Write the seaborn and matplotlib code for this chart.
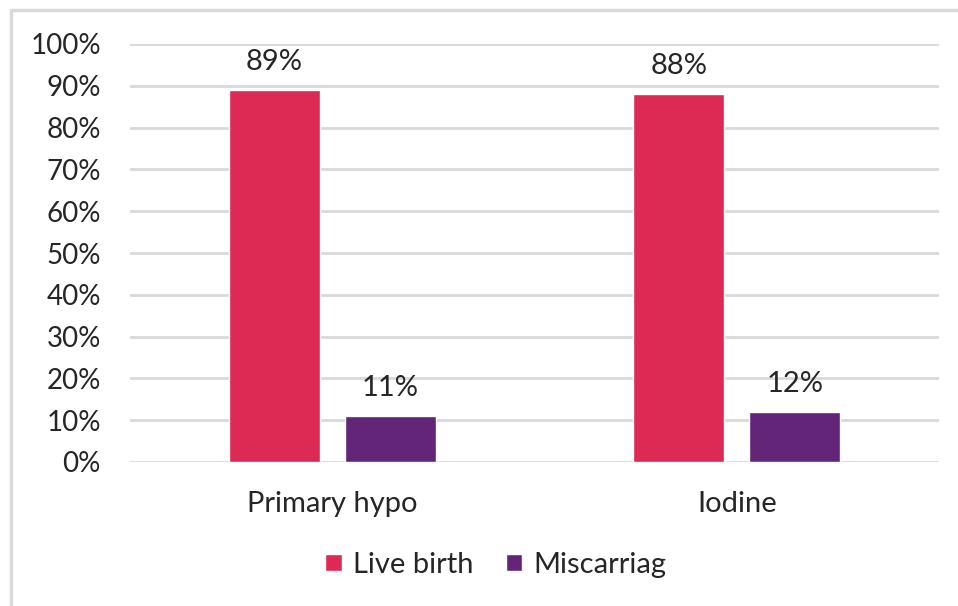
import matplotlib
matplotlib.use("Agg")
import matplotlib.pyplot as plt
from matplotlib.lines import Line2D
from matplotlib.ticker import PercentFormatter
import seaborn as sns
import pandas as pd

categories = ["Primary hypo", "Iodine"]
outcomes = ["Live birth", "Miscarriag"]
live_birth = [0.89, 0.88]
miscarriage = [0.11, 0.12]
y_ticks = [0.0, 0.1, 0.2, 0.3, 0.4, 0.5, 0.6, 0.7, 0.8, 0.9, 1.0]

df = pd.DataFrame({
    "group": categories * 2,
    "outcome": [outcomes[0]] * len(categories) + [outcomes[1]] * len(categories),
    "share": live_birth + miscarriage,
})

sns.set_theme(style="white")
plt.rcParams["font.family"] = ["Lato", "DejaVu Sans"]

palette = {"Live birth": "#DD2A55", "Miscarriag": "#632577"}
fs = 21
fs_tick = 20
ink = "#262626"

fig = plt.figure(figsize=(9.58, 6.06), dpi=100)
ax = fig.add_axes([130 / 958, 1 - 462 / 606, (939 - 130) / 958, (462 - 44) / 606])

sns.barplot(data=df, x="group", y="share", hue="outcome", order=categories,
            hue_order=outcomes, palette=palette, width=0.573, gap=0.215,
            saturation=1, ax=ax, legend=True)

ax.set_xlim(-0.5, 1.5)
ax.set_ylim(0, 1)
ax.set_yticks(y_ticks)
ax.yaxis.set_major_formatter(PercentFormatter(1.0, decimals=0))
ax.yaxis.grid(True, color="#D9D9D9", linewidth=2)
ax.set_axisbelow(True)
for s in ax.spines.values():
    s.set_visible(False)
ax.set_xlabel("")
ax.set_ylabel("")
ax.tick_params(axis="y", labelsize=fs_tick, colors=ink, pad=21, length=0)
ax.tick_params(axis="x", labelsize=fs, colors=ink, pad=21, length=0)

for container in ax.containers:
    ax.bar_label(container, labels=[f"{v * 100:.0f}%" for v in container.datavalues],
                 padding=11, fontsize=fs, color=ink)

handles, labels = ax.get_legend_handles_labels()
ax.legend(handles, labels, loc="center", bbox_to_anchor=((496 - 130) / 809, (462 - 565) / 418),
          ncol=2, frameon=False, fontsize=fs, handlelength=0.55, handleheight=0.55,
          handletextpad=0.4, columnspacing=1.1, labelcolor=ink)

# chart border (top and left edges)
border = "#D9D9D9"
fig.add_artist(Line2D([11 / 958, 1.0], [1 - 9.5 / 606, 1 - 9.5 / 606],
                      transform=fig.transFigure, color=border, linewidth=2.5))
fig.add_artist(Line2D([11 / 958, 11 / 958], [0, 1 - 9.5 / 606],
                      transform=fig.transFigure, color=border, linewidth=2.5))

fig.savefig("out.png", dpi=100)
